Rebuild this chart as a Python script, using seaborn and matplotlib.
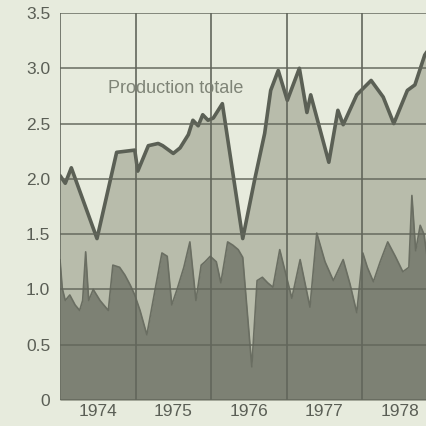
import matplotlib
matplotlib.use("Agg")
import matplotlib.pyplot as plt
import seaborn as sns
import pandas as pd
import numpy as np

# Total production (top line), decimal year -> value
total_t = [1974.00, 1974.07, 1974.15, 1974.49, 1974.75, 1974.99, 1975.03, 1975.17, 1975.30,
           1975.36, 1975.50, 1975.59, 1975.70, 1975.76, 1975.83, 1975.89, 1975.96, 1976.03,
           1976.15, 1976.42, 1976.58, 1976.71, 1976.79, 1976.89, 1977.01, 1977.17, 1977.27,
           1977.32, 1977.56, 1977.68, 1977.75, 1977.93, 1978.12, 1978.28, 1978.42, 1978.60,
           1978.70, 1978.83, 1978.86]
total_v = [2.03, 1.96, 2.10, 1.46, 2.24, 2.26, 2.07, 2.30, 2.32,
           2.30, 2.23, 2.28, 2.40, 2.53, 2.48, 2.58, 2.53, 2.55,
           2.68, 1.46, 2.00, 2.41, 2.80, 2.98, 2.71, 3.00, 2.60,
           2.76, 2.15, 2.62, 2.49, 2.76, 2.89, 2.74, 2.50, 2.80,
           2.85, 3.12, 3.15]

# Lower series (dark area)
low_t = [1974.00, 1974.03, 1974.07, 1974.13, 1974.20, 1974.26, 1974.30, 1974.34, 1974.38,
         1974.44, 1974.53, 1974.64, 1974.70, 1974.79, 1974.86, 1974.93, 1974.99, 1975.06,
         1975.15, 1975.26, 1975.35, 1975.42, 1975.48, 1975.55, 1975.64, 1975.72, 1975.80,
         1975.87, 1975.92, 1975.99, 1976.07, 1976.13, 1976.22, 1976.29, 1976.36, 1976.42,
         1976.54, 1976.61, 1976.68, 1976.75, 1976.82, 1976.91, 1977.07, 1977.18, 1977.31,
         1977.40, 1977.51, 1977.62, 1977.75, 1977.84, 1977.93, 1978.01, 1978.07, 1978.15,
         1978.24, 1978.34, 1978.44, 1978.54, 1978.62, 1978.66, 1978.71, 1978.77, 1978.82,
         1978.86]
low_v = [1.27, 1.01, 0.90, 0.95, 0.86, 0.81, 0.90, 1.34, 0.90,
         1.00, 0.90, 0.81, 1.22, 1.20, 1.13, 1.04, 0.95, 0.81,
         0.59, 1.00, 1.33, 1.30, 0.86, 1.00, 1.20, 1.43, 0.90,
         1.22, 1.25, 1.30, 1.25, 1.06, 1.43, 1.40, 1.36, 1.29,
         0.30, 1.08, 1.11, 1.06, 1.02, 1.36, 0.92, 1.27, 0.84,
         1.51, 1.25, 1.08, 1.27, 1.05, 0.79, 1.33, 1.20, 1.07,
         1.25, 1.43, 1.30, 1.16, 1.20, 1.85, 1.35, 1.58, 1.50,
         1.30]

year_labels = ["1974", "1975", "1976", "1977", "1978"]
y_ticks = [0, 0.5, 1.0, 1.5, 2.0, 2.5, 3.0, 3.5]
y_labels = ["0", "0.5", "1.0", "1.5", "2.0", "2.5", "3.0", "3.5"]
label_text = "Production totale"

sns.set_theme(style="white")
plt.rcParams['font.family'] = ['Liberation Sans', 'DejaVu Sans']

bg = "#e7ebdd"
fig = plt.figure(figsize=(4.27, 4.26), dpi=100, facecolor=bg)
ax = fig.add_axes([0.1405, 0.061, 0.8595, 0.9085])
ax.set_facecolor(bg)

df_total = pd.DataFrame({"t": total_t, "v": total_v})
df_low = pd.DataFrame({"t": low_t, "v": low_v})

ax.fill_between(df_total["t"], 0, df_total["v"], color="#b8bcab", zorder=1, linewidth=0)
ax.fill_between(df_low["t"], 0, df_low["v"], color="#7d8174", zorder=2, linewidth=0)
sns.lineplot(data=df_total, x="t", y="v", ax=ax, color="#5b6055", linewidth=2.6, zorder=4,
             estimator=None, sort=False)
sns.lineplot(data=df_low, x="t", y="v", ax=ax, color="#6a6e62", linewidth=1.2, zorder=3,
             estimator=None, sort=False)

start = int(total_t[0])
n_years = len(year_labels)
ax.set_xlim(start, 1978.86)
ax.set_ylim(0, 3.5)

for k in range(n_years + 1):
    ax.axvline(start + k, color="#62665b", linewidth=1.4, alpha=0.85, zorder=5)
for yv in y_ticks:
    ax.axhline(yv, color="#62665b", linewidth=1.4, alpha=0.75, zorder=5)

ax.set_xticks([start + k + 0.5 for k in range(n_years)])
ax.set_xticklabels(year_labels)
ax.set_yticks(y_ticks)
ax.set_yticklabels(y_labels)
ax.tick_params(axis="both", length=0, labelsize=12.5, colors="#5a5e55")
ax.tick_params(axis="x", pad=3)
ax.tick_params(axis="y", pad=7)
ax.set_xlabel("")
ax.set_ylabel("")
for s in ax.spines.values():
    s.set_visible(False)

ax.text(1974.63, 2.78, label_text, fontsize=13, color="#7f8477", zorder=6, va="baseline")

fig.savefig("out.png", dpi=100, facecolor=bg)
